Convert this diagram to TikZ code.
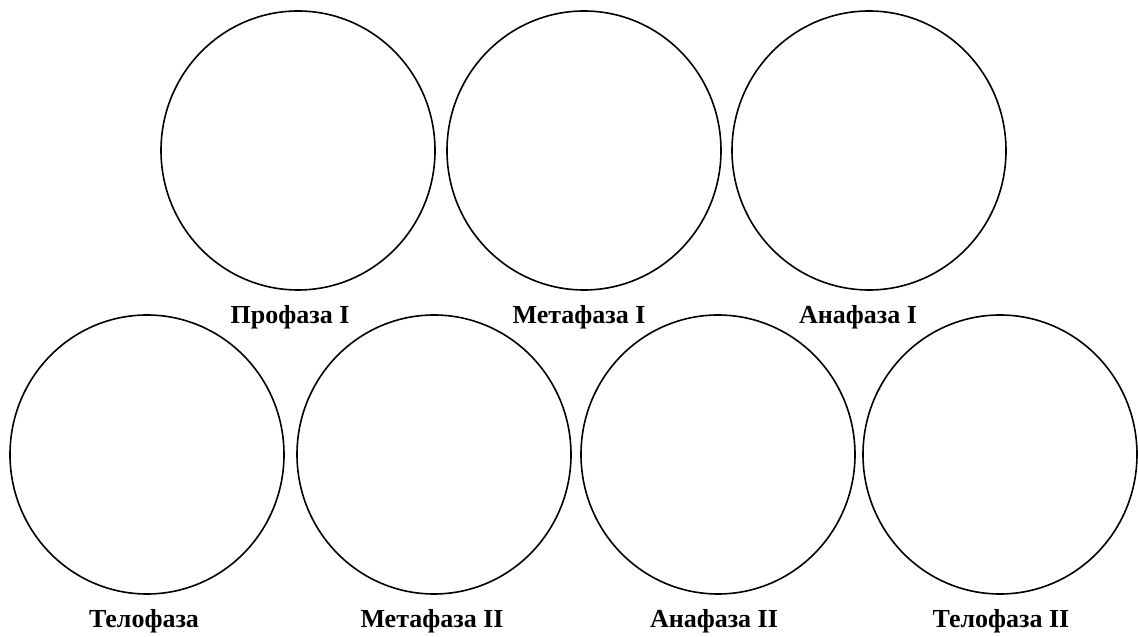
\documentclass[tikz,border=0pt]{standalone}
\usepackage{fontspec}
\setmainfont{Liberation Serif}
\usetikzlibrary{shapes.geometric}
\tikzset{
  cell/.style={draw,ellipse,minimum width=274pt,minimum height=279pt,inner sep=0pt,line width=1.6pt},
  phase/.style={font=\fontsize{26}{30}\selectfont\bfseries,anchor=base}
}
\begin{document}
\begin{tikzpicture}[x=1pt,y=1pt]
  \useasboundingbox (0,0) rectangle (1138,637);
  % first division
  \node[cell] (pro1) at (298,486.5) {};
  \node[cell] (meta1) at (584,486.5) {};
  \node[cell] (ana1) at (869,486.5) {};
  \node[phase] (lpro1) at (290,313) {Профаза I};
  \node[phase] (lmeta1) at (579,313) {Метафаза I};
  \node[phase] (lana1) at (858,313) {Анафаза I};
  % second division
  \node[cell] (telo1) at (147,182.5) {};
  \node[cell] (meta2) at (434,182.5) {};
  \node[cell] (ana2) at (718,182.5) {};
  \node[cell] (telo2) at (1000,182.5) {};
  \node[phase] (ltelo1) at (144,9) {Телофаза};
  \node[phase] (lmeta2) at (432,9) {Метафаза II};
  \node[phase] (lana2) at (714,9) {Анафаза II};
  \node[phase] (ltelo2) at (1001,9) {Телофаза II};
\end{tikzpicture}
\end{document}
